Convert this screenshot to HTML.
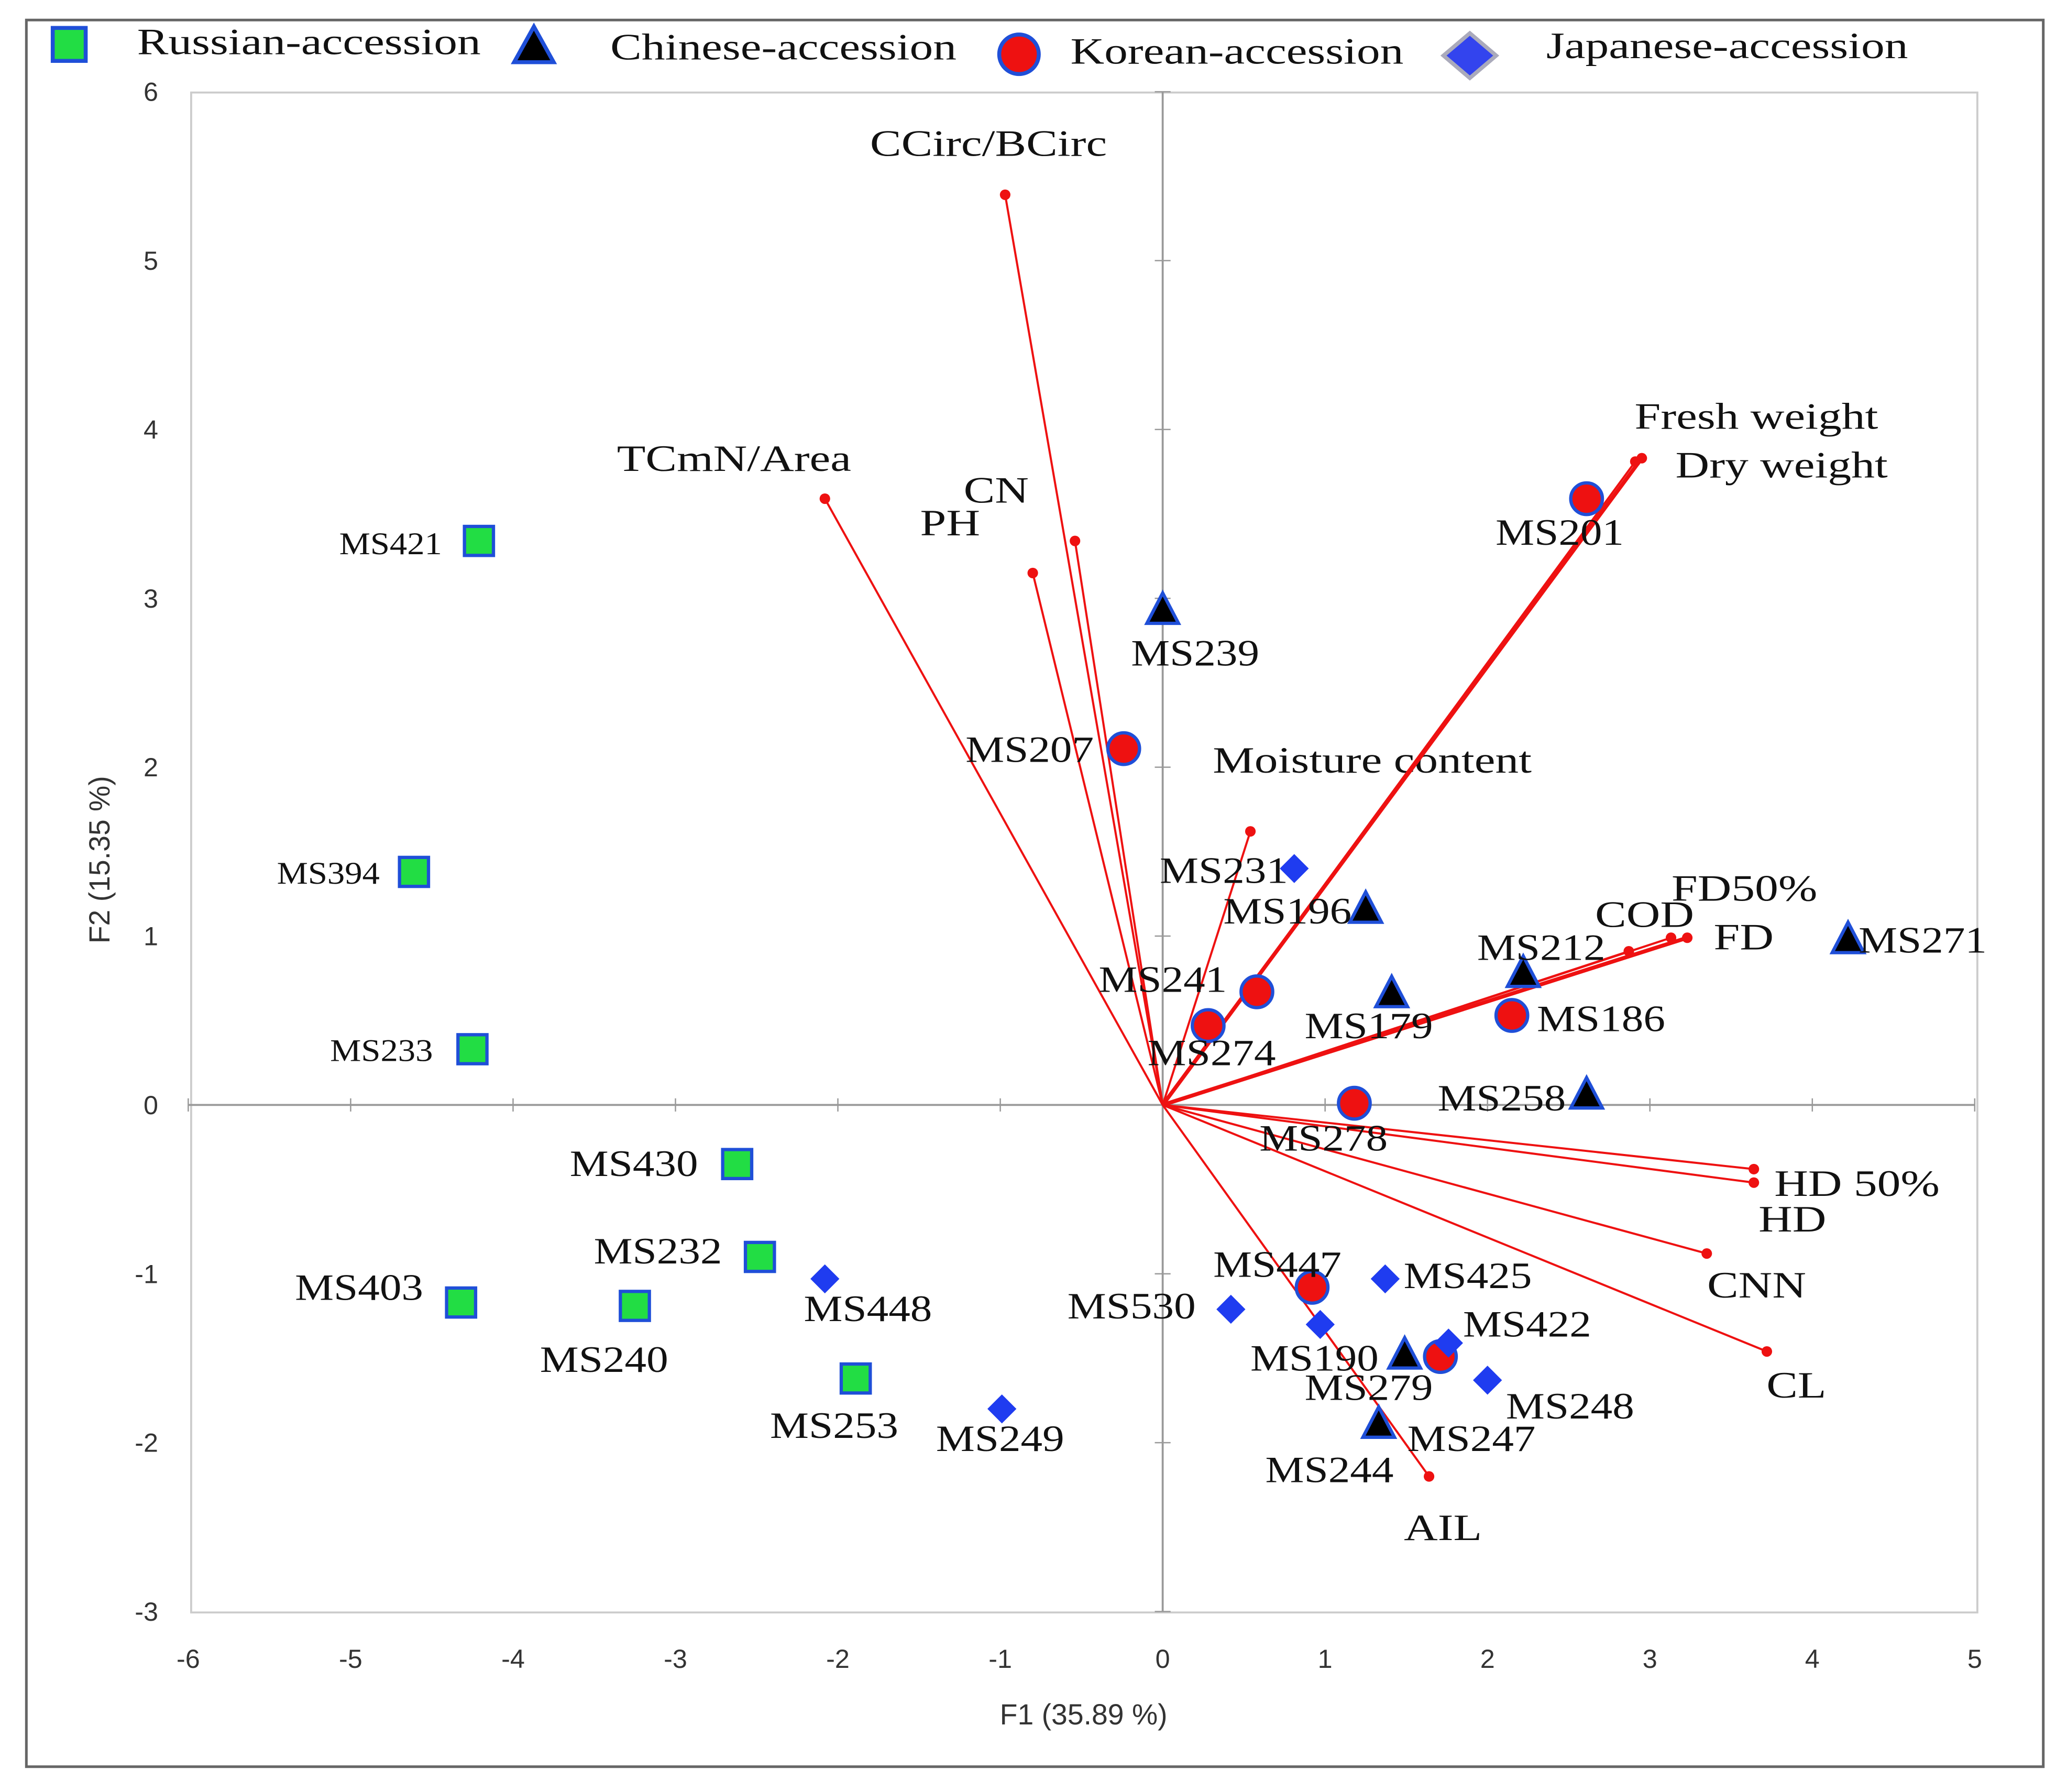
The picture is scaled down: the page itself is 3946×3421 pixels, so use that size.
<!DOCTYPE html>
<html><head><meta charset="utf-8"><style>
html,body{margin:0;padding:0;background:#fff}
svg{display:block}
.s{font-family:"Liberation Serif",serif;fill:#111}
.t{font-family:"Liberation Sans",sans-serif;fill:#333}
</style></head><body>
<svg id="chart" width="3946" height="3421" viewBox="0 0 1568 1359" xmlns="http://www.w3.org/2000/svg">
<rect x="20" y="15" width="1530" height="1325" fill="#fff" stroke="#666" stroke-width="2"/>
<rect x="145" y="70" width="1355" height="1153" fill="none" stroke="#ccc" stroke-width="1.5"/>
<g id="axes"></g>
<g id="vectors"></g>
<g id="points"></g>
<g>
 <g><rect x="40" y="21" width="25" height="25" fill="#22dd44" stroke="#1f4fd8" stroke-width="3"/><text class="s lg" x="104" y="41" font-size="28">Russian-accession</text></g>
 <g><polygon points="405,20 390,47 420,47" fill="#000" stroke="#1f4fd8" stroke-width="3"/><text class="s lg" x="463" y="45" font-size="28">Chinese-accession</text></g>
 <g><circle cx="773" cy="41" r="15" fill="#ee1111" stroke="#1f4fd8" stroke-width="3"/><text class="s lg" x="812" y="48" font-size="28">Korean-accession</text></g>
 <g><polygon points="1115,25 1135,42 1115,59 1095,42" fill="#3344ee" stroke="#aab" stroke-width="3"/><text class="s lg" x="1173" y="44" font-size="28">Japanese-accession</text></g>
</g>
<text class="t" x="822" y="1308" font-size="22" text-anchor="middle">F1 (35.89 %)</text>
<text class="t" x="0" y="0" font-size="22" text-anchor="middle" transform="translate(83,652) rotate(-90)">F2 (15.35 %)</text>
</svg>
<script>
const xTicks=[-6,-5,-4,-3,-2,-1,0,1,2,3,4,5];
const yTicks=[-3,-2,-1,0,1,2,3,4,5,6];
const vecNames=["CCirc/BCirc","TCmN/Area","CN","PH","Moisture content","Fresh weight","Dry weight","FD50%","COD","FD","HD 50%","HD","CNN","CL","AIL"];
const vecX=[-0.97,-2.08,-0.54,-0.80,0.54,2.95,2.91,3.13,2.87,3.23,3.64,3.64,3.35,3.72,1.64];
const vecY=[5.39,3.59,3.34,3.15,1.62,3.83,3.81,0.99,0.91,0.99,-0.38,-0.46,-0.88,-1.46,-2.20];
const vecLabelPos=[[660,118],[468,357],[731,381],[698,406],[920,586],[1240,325],[1271,362],[1268,683],[1210,703],[1300,720],[1346,907],[1334,934],[1295,984],[1340,1060],[1065,1168]];
const ptNames=["MS421","MS394","MS233","MS430","MS232","MS403","MS240","MS253",
 "MS239","MS196","MS212","MS179","MS271","MS258","MS247","MS244",
 "MS201","MS207","MS241","MS274","MS186","MS278","MS447","MS279",
 "MS231","MS448","MS249","MS530","MS425","MS190","MS422","MS248"];
const ptGroup=["R","R","R","R","R","R","R","R","C","C","C","C","C","C","C","C","K","K","K","K","K","K","K","K","J","J","J","J","J","J","J","J"];
const ptX=[-4.21,-4.61,-4.25,-2.62,-2.48,-4.32,-3.25,-1.89, 0,1.25,2.22,1.41,4.22,2.61,1.49,1.33, 2.61,-0.24,0.58,0.28,2.15,1.18,0.92,1.71, 0.81,-2.08,-0.99,0.42,1.37,0.97,1.76,2.0];
const ptY=[3.34,1.38,0.33,-0.35,-0.90,-1.17,-1.19,-1.62, 2.93,1.16,0.78,0.66,0.98,0.06,-1.48,-1.89, 3.59,2.11,0.67,0.47,0.53,0.01,-1.08,-1.49, 1.40,-1.03,-1.80,-1.21,-1.03,-1.30,-1.41,-1.63];
const smallLabel=["MS421","MS394","MS233"];
const labelOff=[[-106,10],[-104,9],[-108,9],[-127,9],[-126,5],[-126,-2],[-72,50],[-65,45],
 [-24,42],[-108,11],[-35,-10],[-66,34],[8,10],[-113,12],[2,73],[-86,44],
 [-69,35],[-120,10],[-120,0],[-46,30],[19,12],[-72,36],[-75,-8],[-103,33],
 [-102,11],[-16,32],[-50,32],[-124,7],[14,7],[-53,35],[11,-5],[14,29]];
const X=v=>882+v*123.2, Y=v=>838-v*128.1;
const NS="http://www.w3.org/2000/svg";
function mk(tag,attrs,parent){const e=document.createElementNS(NS,tag);for(const k in attrs)e.setAttribute(k,attrs[k]);parent.appendChild(e);return e;}
function stretch(t,f){const w=t.getComputedTextLength();if(w>0){t.setAttribute('textLength',(w*f).toFixed(1));t.setAttribute('lengthAdjust','spacingAndGlyphs');}}
document.querySelectorAll('.lg').forEach(t=>stretch(t,1.27));
const axes=document.getElementById('axes');
let l=mk('line',{x1:X(-6),x2:X(5),y1:Y(0),y2:Y(0),stroke:'#999','stroke-width':1.5},axes);


l=mk('line',{x1:X(0),x2:X(0),y1:Y(6),y2:Y(-3),stroke:'#999','stroke-width':1.5},axes);


xTicks.forEach(v=>{
 mk('line',{x1:X(v),x2:X(v),y1:Y(0)-5,y2:Y(0)+5,stroke:'#999'},axes);
 const t=mk('text',{x:X(v),y:1265,'font-size':20,'text-anchor':'middle',class:'t'},axes);t.textContent=v;
 
 
});
yTicks.forEach(v=>{
 mk('line',{x1:X(0)-6,x2:X(0)+6,y1:Y(v),y2:Y(v),stroke:'#999'},axes);
 const t=mk('text',{x:120,y:Y(v)+7,'font-size':20,'text-anchor':'end',class:'t'},axes);t.textContent=v;
 
 
});
const vg=document.getElementById('vectors');
vecNames.forEach((n,i)=>{
 const w=(n==='Fresh weight'||n==='FD')?3:1.6;
 const ln=mk('line',{x1:X(0),y1:Y(0),x2:X(vecX[i]),y2:Y(vecY[i]),stroke:'#ee1111','stroke-width':w},vg);
 
 
 mk('circle',{cx:X(vecX[i]),cy:Y(vecY[i]),r:4,fill:'#ee1111'},vg);
 const t=mk('text',{x:vecLabelPos[i][0],y:vecLabelPos[i][1],'font-size':28,class:'s'},vg);t.textContent=n;
 stretch(t,1.27);
 
 
});
const pg=document.getElementById('points');
ptNames.forEach((n,i)=>{
 const x=X(ptX[i]),y=Y(ptY[i]),g=ptGroup[i];let m;
 if(g==='R')m=mk('rect',{x:x-11,y:y-11,width:22,height:22,fill:'#22dd44',stroke:'#1f4fd8','stroke-width':2.5},pg);
 else if(g==='C')m=mk('polygon',{points:`${x},${y-13} ${x-12},${y+10} ${x+12},${y+10}`,fill:'#000',stroke:'#1f4fd8','stroke-width':2.5},pg);
 else if(g==='K')m=mk('circle',{cx:x,cy:y,r:12,fill:'#ee1111',stroke:'#1f4fd8','stroke-width':2.5},pg);
 else m=mk('polygon',{points:`${x},${y-11} ${x+11},${y} ${x},${y+11} ${x-11},${y}`,fill:'#1f3cf0'},pg);
 
 
 const small=smallLabel.includes(n);
 const t=mk('text',{x:x+labelOff[i][0],y:y+labelOff[i][1],'font-size':small?24:28,class:'s'},pg);t.textContent=n;
 if(small){t.setAttribute('textLength',78);t.setAttribute('lengthAdjust','spacingAndGlyphs');}
 else stretch(t,1.18);
 
 
});
</script>
</body></html>
